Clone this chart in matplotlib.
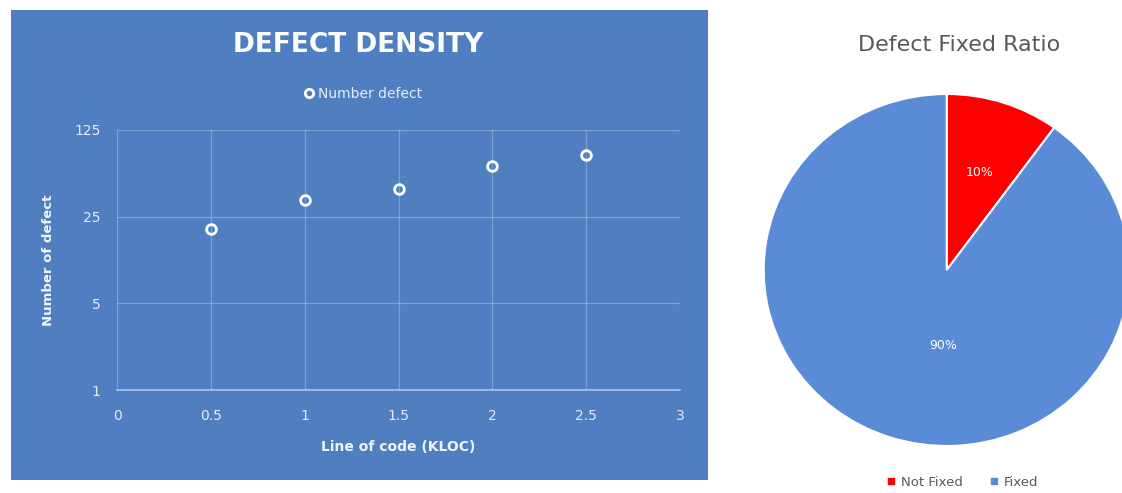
import numpy as np
import matplotlib
matplotlib.use("Agg")
import matplotlib.pyplot as plt
from matplotlib.patches import Rectangle
from matplotlib.lines import Line2D
from matplotlib.ticker import FixedLocator, FixedFormatter

# defect density per size of code
kloc = [0.5, 1.0, 1.5, 2.0, 2.5]
defects = [20, 34, 42, 64, 78]
y_ticks = [1, 5, 25, 125]
x_ticks = [0, 0.5, 1, 1.5, 2, 2.5, 3]

# share of defects fixed
fix_labels = ["Not Fixed", "Fixed"]
fix_share = [10, 90]
fix_colors = ["#ff0000", "#5a8bd6"]

panel_blue = "#4f7fc0"
W, H = 1122, 493

fig = plt.figure(figsize=(W / 100, H / 100), dpi=100)
fig.patch.set_facecolor("white")

def fx(px):
    return px / W

def fy(py):
    return 1 - py / H

# blue chart panel, drawn underneath the axes
fig.patches.append(Rectangle((fx(11), fy(480)), fx(708 - 11), (480 - 10) / H,
                             transform=fig.transFigure, facecolor=panel_blue,
                             edgecolor="none", zorder=-1))

ax = fig.add_axes([fx(117), fy(390), fx(680 - 117), (390 - 130) / H])
ax.set_facecolor("none")
ax.set_yscale("log", base=5)
ax.set_ylim(1, 125)
ax.set_xlim(0, 3)
ax.yaxis.set_major_locator(FixedLocator(y_ticks))
ax.yaxis.set_major_formatter(FixedFormatter([str(t) for t in y_ticks]))
ax.yaxis.set_minor_locator(FixedLocator([]))
ax.set_xticks(x_ticks)
ax.set_xticklabels(["0", "0.5", "1", "1.5", "2", "2.5", "3"])
ax.grid(True, color="white", alpha=0.25, lw=0.9)
for s in ["top", "right", "left"]:
    ax.spines[s].set_visible(False)
ax.spines["bottom"].set_color("#a9c4e8")
ax.spines["bottom"].set_linewidth(1.2)
ax.tick_params(length=0, colors="#e4ecf7", labelsize=10)
ax.tick_params(axis="x", pad=14)
ax.tick_params(axis="y", pad=12)

ax.plot(kloc, defects, ls="none", marker="o", ms=7, mfc="none",
        mec="white", mew=2, label="Number defect", clip_on=False)

ax.set_xlabel("Line of code (KLOC)", color="#f0f4fa", fontsize=10,
              fontweight="bold", labelpad=12)
ax.set_ylabel("Number of defect", color="#f0f4fa", fontsize=9.5,
              fontweight="bold", labelpad=14)

fig.text(fx(358), fy(45), "DEFECT DENSITY", color="white", fontsize=19,
         fontweight="bold", ha="center", va="center")
fig.legend(handles=[Line2D([], [], ls="none", marker="o", ms=6, mfc="none",
                           mec="white", mew=2)],
           labels=["Number defect"], loc="center", bbox_to_anchor=(fx(362), fy(94)),
           frameon=False, fontsize=10, labelcolor="#e4ecf7", handletextpad=0.2,
           handlelength=1)

# pie of fixed vs not fixed
cx, cy, rx, ry = 946.7, 270, 183, 176
pax = fig.add_axes([fx(cx - rx), fy(cy + ry), 2 * rx / W, 2 * ry / H])
wedges, texts, autotexts = pax.pie(
    fix_share, colors=fix_colors, startangle=90, counterclock=False,
    autopct="%d%%", pctdistance=0.58,
    wedgeprops=dict(edgecolor="white", linewidth=1.5),
    textprops=dict(color="white", fontsize=9))
pax.set_aspect("auto")
pax.set_xlim(-1, 1)
pax.set_ylim(-1, 1)
autotexts[1].set_position((-0.02, -0.43))

fig.text(fx(959), fy(45), "Defect Fixed Ratio", color="#595959", fontsize=16,
         ha="center", va="center")
fig.legend(handles=[Line2D([], [], ls="none", marker="s", ms=5, color=c)
                    for c in fix_colors],
           labels=fix_labels, loc="center", ncol=2,
           bbox_to_anchor=(fx(962), fy(482)), frameon=False, fontsize=9.5,
           labelcolor="#595959", handletextpad=0.3, columnspacing=2.0,
           handlelength=0.8)

fig.savefig("out.png", dpi=100)
